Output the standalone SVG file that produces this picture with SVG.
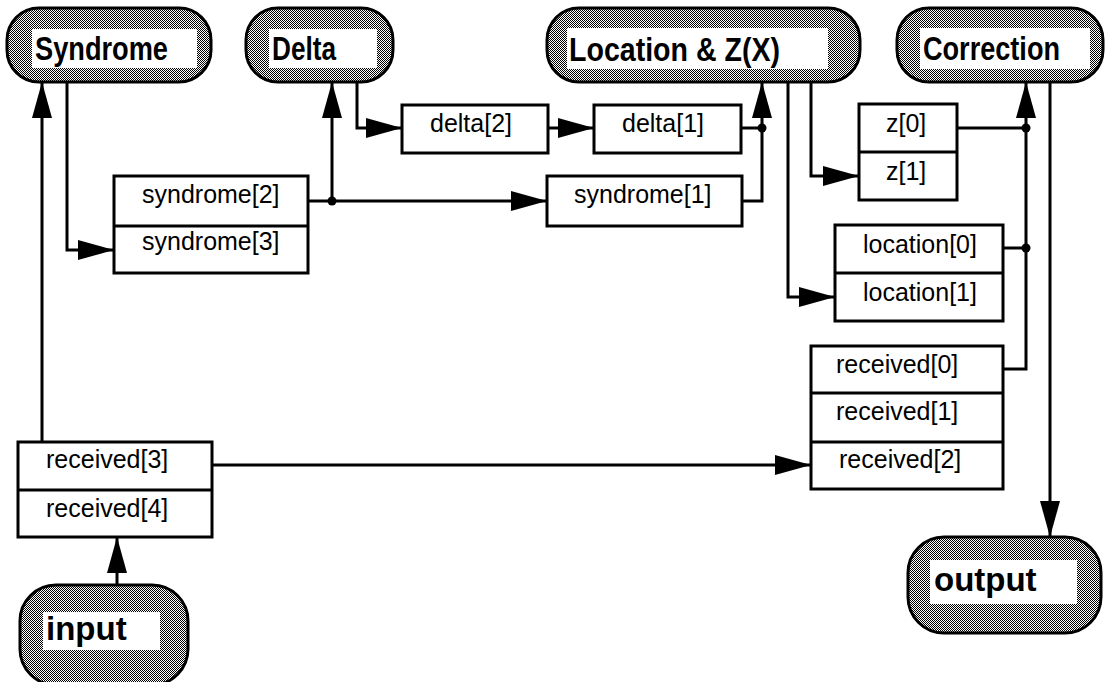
<svg xmlns="http://www.w3.org/2000/svg" width="1108" height="682" viewBox="0 0 1108 682">
  <defs>
    <!-- halftone fill for the process pills -->
    <pattern id="dither" width="2" height="2" patternUnits="userSpaceOnUse">
      <rect width="2" height="2" fill="#ffffff"/>
      <rect x="0" y="0" width="1" height="1" fill="#000000"/>
      <rect x="1" y="1" width="1" height="1" fill="#000000"/>
    </pattern>
    <marker id="arrow" markerUnits="userSpaceOnUse" viewBox="0 0 36 20" markerWidth="36" markerHeight="20" refX="36" refY="10" orient="auto">
      <path d="M0,0 L36,10 L0,20 Z" fill="#000"/>
    </marker>
    <style>
      .pill { fill: url(#dither); stroke: #000; stroke-width: 3; }
      .inner { fill: #fff; }
      .ptext { font-family: "Liberation Sans", Arial, sans-serif; font-weight: bold; font-size: 34px; fill: #000; }
      .ptext2 { font-family: "Liberation Sans", Arial, sans-serif; font-weight: bold; font-size: 33px; fill: #000; }
      .box { fill: #fff; stroke: #000; stroke-width: 3; }
      .btext { font-family: "Liberation Sans", Arial, sans-serif; font-size: 25px; fill: #000; }
      .wire { fill: none; stroke: #000; stroke-width: 3; }
      .arr { marker-end: url(#arrow); }
      .dot { fill: #000; }
    </style>
  </defs>
  <rect width="1108" height="682" fill="#fff"/>

  <!-- connectors -->
  <g id="connectors">
    <path class="wire arr" d="M42,442 V82"/>
    <path class="wire arr" d="M67,82 V250 H114"/>
    <path class="wire arr" d="M308,201 H547"/>
    <path class="wire arr" d="M332,201 V82"/>
    <circle class="dot" cx="332" cy="201" r="4.5"/>
    <path class="wire arr" d="M357,82 V128 H402"/>
    <path class="wire arr" d="M548,128 H594"/>
    <path class="wire" d="M741,128 H762"/>
    <path class="wire arr" d="M742,201 H762 V82"/>
    <circle class="dot" cx="762" cy="128" r="4.5"/>
    <path class="wire arr" d="M788,82 V297 H835"/>
    <path class="wire arr" d="M811,82 V176 H859"/>
    <path class="wire" d="M957,128 H1026"/>
    <path class="wire" d="M1003,248 H1026"/>
    <path class="wire arr" d="M1003,369 H1026 V82"/>
    <circle class="dot" cx="1026" cy="128" r="4.5"/>
    <circle class="dot" cx="1026" cy="248" r="4.5"/>
    <path class="wire arr" d="M1050,82 V537"/>
    <path class="wire arr" d="M212,465 H811"/>
    <path class="wire arr" d="M117,585 V537"/>
  </g>

  <!-- process pills -->
  <g id="syndrome">
    <rect class="pill" x="7" y="8" width="204" height="74" rx="32" ry="32"/>
    <rect class="inner" x="32" y="29" width="165" height="39"/>
    <text class="ptext" x="35" y="60" textLength="133" lengthAdjust="spacingAndGlyphs">Syndrome</text>
  </g>
  <g id="delta">
    <rect class="pill" x="246" y="8" width="147" height="74" rx="32" ry="32"/>
    <rect class="inner" x="269" y="29" width="108" height="39"/>
    <text class="ptext" x="272" y="60" textLength="64" lengthAdjust="spacingAndGlyphs">Delta</text>
  </g>
  <g id="location">
    <rect class="pill" x="547" y="8" width="313" height="74" rx="32" ry="32"/>
    <rect class="inner" x="567" y="28" width="261" height="41"/>
    <text class="ptext" x="569" y="61" textLength="211" lengthAdjust="spacingAndGlyphs">Location &amp; Z(X)</text>
  </g>
  <g id="correction">
    <rect class="pill" x="897" y="8" width="206" height="74" rx="32" ry="32"/>
    <rect class="inner" x="920" y="28" width="170" height="41"/>
    <text class="ptext" x="923" y="60" textLength="137" lengthAdjust="spacingAndGlyphs">Correction</text>
  </g>
  <g id="input">
    <rect class="pill" x="20" y="585" width="168" height="100" rx="36" ry="36"/>
    <rect class="inner" x="43" y="612" width="117" height="38"/>
    <text class="ptext2" x="46" y="640">input</text>
  </g>
  <g id="output">
    <rect class="pill" x="908" y="537" width="193" height="96" rx="36" ry="36"/>
    <rect class="inner" x="930" y="560" width="147" height="44"/>
    <text class="ptext2" x="934" y="591">output</text>
  </g>

  <!-- storage boxes -->
  <g id="syndrome-reg">
    <rect class="box" x="114" y="176" width="194" height="97"/>
    <line class="wire" x1="114" y1="226" x2="308" y2="226"/>
    <text class="btext" x="142" y="203">syndrome[2]</text>
    <text class="btext" x="142" y="250">syndrome[3]</text>
  </g>
  <g id="delta2">
    <rect class="box" x="402" y="105" width="146" height="48"/>
    <text class="btext" x="430" y="132">delta[2]</text>
  </g>
  <g id="delta1">
    <rect class="box" x="594" y="105" width="147" height="48"/>
    <text class="btext" x="622" y="132">delta[1]</text>
  </g>
  <g id="syndrome1">
    <rect class="box" x="547" y="176" width="195" height="50"/>
    <text class="btext" x="574" y="203">syndrome[1]</text>
  </g>
  <g id="z-reg">
    <rect class="box" x="859" y="104" width="98" height="96"/>
    <line class="wire" x1="859" y1="152" x2="957" y2="152"/>
    <text class="btext" x="886" y="132">z[0]</text>
    <text class="btext" x="886" y="180">z[1]</text>
  </g>
  <g id="location-reg">
    <rect class="box" x="835" y="225" width="168" height="96"/>
    <line class="wire" x1="835" y1="273" x2="1003" y2="273"/>
    <text class="btext" x="863" y="253">location[0]</text>
    <text class="btext" x="863" y="301">location[1]</text>
  </g>
  <g id="received-out">
    <rect class="box" x="811" y="346" width="192" height="143"/>
    <line class="wire" x1="811" y1="393" x2="1003" y2="393"/>
    <line class="wire" x1="811" y1="442" x2="1003" y2="442"/>
    <text class="btext" x="836" y="373">received[0]</text>
    <text class="btext" x="836" y="420">received[1]</text>
    <text class="btext" x="839" y="468">received[2]</text>
  </g>
  <g id="received-in">
    <rect class="box" x="18" y="442" width="194" height="95"/>
    <line class="wire" x1="18" y1="490" x2="212" y2="490"/>
    <text class="btext" x="46" y="468">received[3]</text>
    <text class="btext" x="46" y="517">received[4]</text>
  </g>
</svg>
